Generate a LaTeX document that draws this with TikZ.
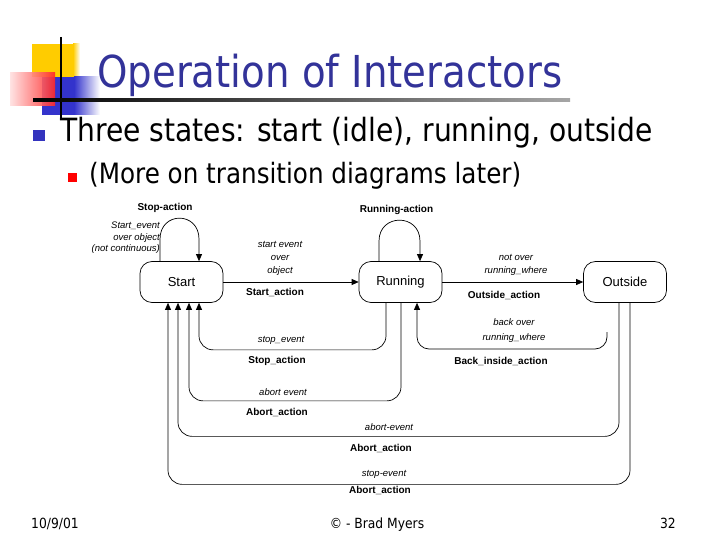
\documentclass[tikz,border=0pt]{standalone}
\usepackage{fontspec}
\setmainfont{DejaVu Sans}[FakeStretch=0.88]
\newfontfamily\dg{Liberation Sans}
\usetikzlibrary{arrows.meta,calc}
\definecolor{titleblue}{RGB}{51,51,153}
\definecolor{logoyellow}{RGB}{255,204,0}
\definecolor{logoblue}{RGB}{51,51,204}
\definecolor{bullblue}{RGB}{51,51,190}
\begin{document}
\begin{tikzpicture}[x=1pt,y=-1pt,
  state/.style={draw, rounded corners=12pt, minimum width=83pt, minimum height=41pt,
    font=\dg\fontsize{13}{15}\selectfont, line width=0.7pt},
  conn/.style={line width=0.7pt},
  arr/.style={conn,-{Triangle[length=7pt,width=6pt]}},
  ev/.style={font=\dg\itshape\fontsize{9.5}{13}\selectfont, inner sep=0, align=center},
  act/.style={font=\dg\bfseries\fontsize{10}{12}\selectfont, inner sep=0},
  txt/.style={anchor=base west, inner sep=0}]
\useasboundingbox (0,0) rectangle (720,540);
% logo
\fill[logoyellow] (32,44) rectangle (73,77);
\shade[left color=logoyellow, right color=white] (73,44) rectangle (80,77);
\fill[logoblue] (42,77) rectangle (74,115);
\shade[left color=logoblue, right color=white] (74,77) rectangle (100,115);
\shade[left color=red!12, right color=red!85, fill opacity=0.9] (10,73) rectangle (55,106);
\draw[line width=1.2pt] (61,37) -- (61,119);
\shade[left color=black, right color=black!35] (33,99) rectangle (570,101.5);
% title and bullets
\node[txt, text=titleblue, font=\fontsize{44}{50}\selectfont] (title) at (97,88) {Operation of Interactors};
\fill[bullblue] (33,130) rectangle (45,141);
\node[txt, font=\fontsize{32}{36}\selectfont] (b1) at (60,142) {Three states: start (idle), running, outside};
\fill[red] (68,173) rectangle (77,182);
\node[txt, font=\fontsize{28}{32}\selectfont] (b2) at (89,184) {(More on transition diagrams later)};
% states
\node[state] (Start) at (181.5,282) {Start};
\node[state] (Running) at (400.5,282) {Running};
\node[state] (Outside) at (625,282) {Outside};
% self loops
\draw[arr] ($(Start.north)+(-21.5,0)$) -- ($(Start.north)+(-21.5,-22)$)
  .. controls ($(Start.north)+(-21.5,-50)$) and ($(Start.north)+(17.5,-50)$) .. ($(Start.north)+(17.5,-22)$)
  -- ($(Start.north)+(17.5,0)$);
\draw[arr] ($(Running.north)+(-21.5,0)$) -- ($(Running.north)+(-21.5,-20)$)
  .. controls ($(Running.north)+(-21.5,-48)$) and ($(Running.north)+(19.5,-48)$) .. ($(Running.north)+(19.5,-20)$)
  -- ($(Running.north)+(19.5,0)$);
\node[act] (sa) at (165,208) {Stop-action};
\node[ev, align=right, anchor=east, font=\dg\itshape\fontsize{9.5}{11.5}\selectfont] (se) at (160,238) {Start\_event\\over object\\(not continuous)};
\node[act] (ra) at (396.5,210) {Running-action};
% horizontal transitions
\draw[arr] (Start) -- (Running);
\draw[arr] (Running) -- (Outside);
\node[ev] (sev) at (280,258) {start event\\over\\object};
\node[act] (sac) at (275,292) {Start\_action};
\node[ev] (nov) at (516,264.5) {not over\\running\_where};
\node[act] (oac) at (504,295) {Outside\_action};
% back inside
\coordinate (bi) at (607,332);
\draw[arr, rounded corners=12pt] (bi) -- ++(0,17) -| ($(Running.south)+(16.5,0)$);
\node[ev, font=\dg\itshape\fontsize{9.5}{15}\selectfont] (bov) at (514,331) {back over\\running\_where};
\node[act] (bia) at (501,361) {Back\_inside\_action};
% returns to Start
\draw[arr, rounded corners=14pt] ($(Running.south)+(-14.5,0)$) -- ++(0,47) -| ($(Start.south)+(17.5,0)$);
\node[ev] (stev) at (281,340) {stop\_event};
\node[act] (stac) at (277,361) {Stop\_action};
\draw[arr, rounded corners=14pt] ($(Running.south)+(0.5,0)$) -- ++(0,98) -| ($(Start.south)+(7.5,0)$);
\node[ev] (abev) at (283,392) {abort event};
\node[act] (abac) at (277,412) {Abort\_action};
\draw[arr, rounded corners=14pt] ($(Outside.south)+(-6,0)$) -- ++(0,133.5) -| ($(Start.south)+(-3.5,0)$);
\node[ev] (abev2) at (389,427) {abort-event};
\node[act] (abac2) at (381,448) {Abort\_action};
\draw[arr, rounded corners=14pt] ($(Outside.south)+(5,0)$) -- ++(0,181.5) -| ($(Start.south)+(-13.5,0)$);
\node[ev] (stev2) at (384,474) {stop-event};
\node[act] (abac3) at (380,490) {Abort\_action};
% footer
\node[txt, font=\fontsize{14}{16}\selectfont] (date) at (31,528) {10/9/01};
\node[anchor=base, inner sep=0, font=\fontsize{14}{16}\selectfont] (copy) at (377,528) {© - Brad Myers};
\node[anchor=base east, inner sep=0, font=\fontsize{14}{16}\selectfont] (page) at (676,528) {32};
\end{tikzpicture}
\end{document}
